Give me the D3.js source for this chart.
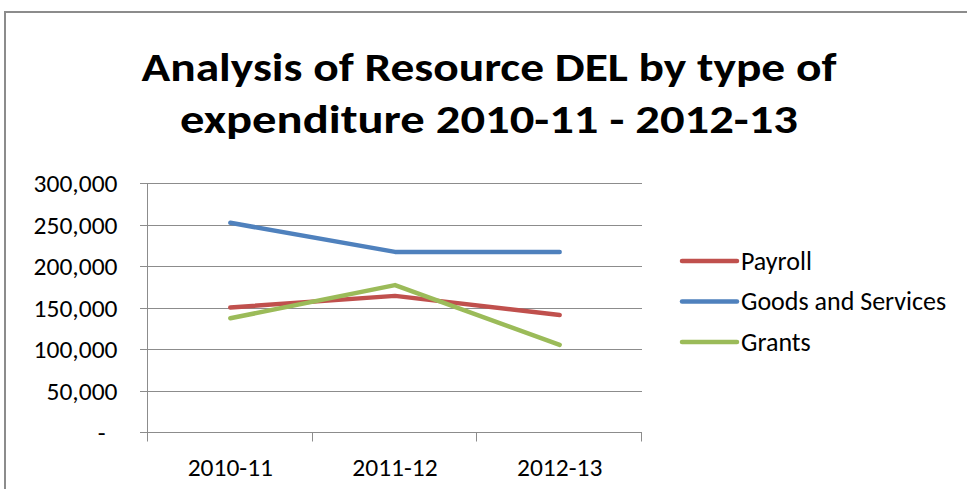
<!DOCTYPE html>
<html>
<head>
<meta charset="utf-8">
<script src="https://cdn.jsdelivr.net/npm/d3@7"></script>
<style>
    body { margin: 0; background: #fff; }
    text { font-family: Carlito, Calibri, "Open Sans", sans-serif; fill: #000; }
</style>
</head>
<body>
<div class="grafica-lineas"></div>
<script>
// datos
const categorias = ['2010-11', '2011-12', '2012-13'];
const series = ['Payroll', 'Goods and Services', 'Grants'];
const payroll = [150000, 164000, 141000];
const goods_services = [252000, 217000, 217000];
const grants = [137000, 177000, 105000];
const ticks_y = [0, 50000, 100000, 150000, 200000, 250000, 300000];
const titulo = ['Analysis of Resource DEL by type of', 'expenditure 2010-11 - 2012-13'];

function grafica_lineas() {
    const width = 967,
        height = 489;
    const margin = { top: 183, right: 325, bottom: 57, left: 148 };

    const colores = ['#C0504D', '#4F81BD', '#9BBB59'];
    const color = d3.scaleOrdinal().domain(series).range(colores);

    const datos = [payroll, goods_services, grants].map((vals, i) => ({
        name: series[i],
        values: vals.map((v, j) => ({ cat: categorias[j], value: v }))
    }));

    const svg = d3.select('.grafica-lineas').append('svg')
        .attr('width', width)
        .attr('height', height);

    // marco del grafico
    svg.append('path')
        .attr('d', `M5,${height + 2} V12 H${width + 2}`)
        .attr('fill', 'none')
        .attr('stroke', '#8c8c8c')
        .attr('stroke-width', 2);

    const x = d3.scaleBand()
        .domain(categorias)
        .range([margin.left, width - margin.right])
        .padding(0);

    const y = d3.scaleLinear()
        .domain([0, 300000])
        .range([height - margin.bottom, margin.top]);

    // titulo (dos lineas)
    const anchos = [695, 618];
    svg.selectAll('text.titulo')
        .data(titulo)
        .enter().append('text')
        .attr('class', 'titulo')
        .attr('x', 489)
        .attr('y', (d, i) => 81 + i * 52)
        .attr('text-anchor', 'middle')
        .attr('font-size', 41)
        .attr('font-weight', 'bold')
        .attr('textLength', (d, i) => anchos[i])
        .attr('lengthAdjust', 'spacingAndGlyphs')
        .text(d => d);

    // lineas de la cuadricula
    svg.append('g')
        .selectAll('line')
        .data(ticks_y)
        .enter().append('line')
        .attr('x1', margin.left - 8)
        .attr('x2', width - margin.right)
        .attr('y1', d => Math.round(y(d)) + 0.5)
        .attr('y2', d => Math.round(y(d)) + 0.5)
        .attr('stroke', '#8c8c8c')
        .attr('stroke-width', 1);

    // eje y
    const formatNumber = d3.format(',d');
    const ejeY = svg.append('g')
        .attr('transform', `translate(${margin.left - 0.5},0)`)
        .call(d3.axisLeft(y).tickValues(ticks_y).tickSize(8).tickPadding(22)
            .tickFormat(d => d === 0 ? '-' : formatNumber(d)));
    ejeY.select('.domain')
        .attr('stroke', '#8c8c8c')
        .attr('d', `M0,${y(300000)}V${y(0) + 9}`);
    ejeY.selectAll('.tick line').remove();
    ejeY.selectAll('.tick text')
        .attr('font-size', 25.5)
        .attr('font-family', null)
        .attr('fill', '#000')
        .attr('dy', '0.34em')
        .attr('dx', d => d === 0 ? -12 : 0);

    // eje x
    const ejeX = svg.append('g')
        .attr('transform', `translate(0,${Math.round(y(0)) + 0.5})`);
    ejeX.append('line')
        .attr('x1', x.range()[0])
        .attr('x2', x.range()[1])
        .attr('stroke', '#8c8c8c');
    const bordes = categorias.map(c => x(c)).concat([x.range()[1]]);
    ejeX.selectAll('line.tick')
        .data(bordes)
        .enter().append('line')
        .attr('class', 'tick')
        .attr('x1', d => Math.round(d) - 0.5)
        .attr('x2', d => Math.round(d) - 0.5)
        .attr('y1', 0)
        .attr('y2', 9)
        .attr('stroke', '#8c8c8c');
    ejeX.selectAll('text')
        .data(categorias)
        .enter().append('text')
        .attr('x', d => x(d) + x.bandwidth() / 2)
        .attr('y', 43)
        .attr('text-anchor', 'middle')
        .attr('font-size', 25.5)
        .text(d => d);

    // lineas de las series
    const linea = d3.line()
        .x(d => x(d.cat) + x.bandwidth() / 2)
        .y(d => y(d.value));

    svg.append('g')
        .selectAll('path')
        .data(datos)
        .enter().append('path')
        .attr('d', d => linea(d.values))
        .attr('fill', 'none')
        .attr('stroke', d => color(d.name))
        .attr('stroke-width', 4.5)
        .attr('stroke-linecap', 'round')
        .attr('stroke-linejoin', 'round');

    // leyenda
    const leyenda = svg.append('g')
        .attr('transform', 'translate(682,261)')
        .selectAll('g')
        .data(series)
        .enter().append('g')
        .attr('transform', (d, i) => `translate(0,${i * 40.5})`);
    leyenda.append('line')
        .attr('x1', 0)
        .attr('x2', 55)
        .attr('stroke', d => color(d))
        .attr('stroke-width', 4.5)
        .attr('stroke-linecap', 'round');
    leyenda.append('text')
        .attr('x', 59)
        .attr('dy', '0.34em')
        .attr('font-size', 26)
        .text(d => d);
}

grafica_lineas();
</script>
</body>
</html>
